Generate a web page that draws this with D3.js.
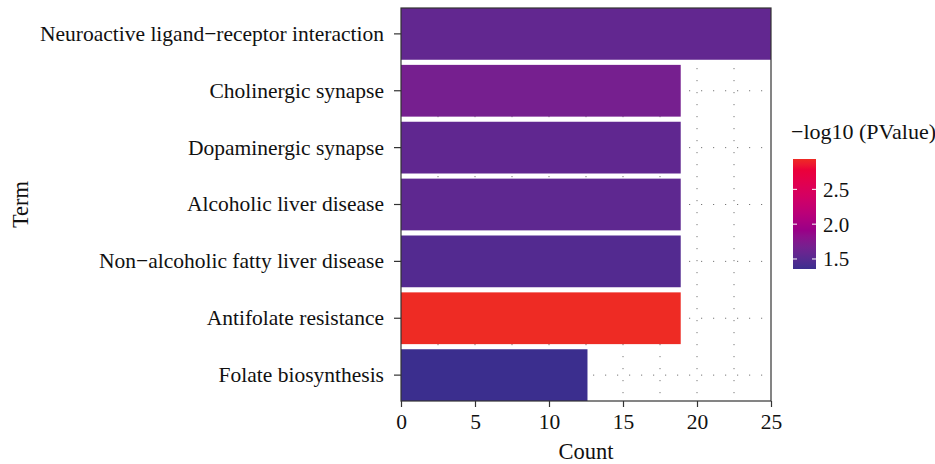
<!DOCTYPE html>
<html>
<head>
<meta charset="utf-8">
<script src="https://cdn.jsdelivr.net/npm/d3@7"></script>
<style>
  html, body { margin: 0; padding: 0; background: #fff; overflow: hidden; }
  svg { display: block; }
  svg text { font-family: "Liberation Serif", "DejaVu Serif", serif; fill: #111; }
</style>
</head>
<body>
<div id="plot"></div>
<script>

// data
  var terms = ["Neuroactive ligand\u2212receptor interaction", "Cholinergic synapse",
      "Dopaminergic synapse", "Alcoholic liver disease",
      "Non\u2212alcoholic fatty liver disease", "Antifolate resistance",
      "Folate biosynthesis"];
  var counts = [25, 18.9, 18.9, 18.9, 18.9, 18.9, 12.6];
  var logP = [1.56, 1.68, 1.55, 1.54, 1.48, 2.936, 1.356];
  var xTicks = [0, 5, 10, 15, 20, 25];
  var gridTicks = [2.5, 5, 7.5, 10, 12.5, 15, 17.5, 20, 22.5];
  var legendTicks = [1.5, 2.0, 2.5];
  var legendRange = [1.356, 2.936];

  var w = 935;
  var h = 464;
  var margin = {top: 8, right: 164, bottom: 63, left: 401};
  var innerWidth = w - margin.left - margin.right;
  var innerHeight = h - margin.top - margin.bottom;

  var xScale = d3.scaleLinear()
      .domain([0, 25])
      .range([0, innerWidth]);

  var yScale = d3.scaleBand()
      .domain(terms)
      .range([0, innerHeight])
      .paddingInner(0.09)
      .paddingOuter(0);

  var color = d3.scaleLinear()
      .domain(legendRange)
      .range(["#3b2e8e", "#ee2b24"])
      .interpolate(d3.interpolateHcl);

  var svg = d3.select("div#plot")
    .append("svg")
      .attr("width", w)
      .attr("height", h);

  var g = svg.append("g")
      .attr("transform", `translate(${margin.left}, ${margin.top})`);

// dotted grid

  g.selectAll(".vgrid")
      .data(gridTicks)
    .enter().append("line")
      .attr("x1", d => xScale(d))
      .attr("x2", d => xScale(d))
      .attr("y1", 0)
      .attr("y2", innerHeight)
      .attr("stroke", "#777")
      .attr("stroke-width", 1)
      .attr("stroke-dasharray", "1.2,10.8");

  g.selectAll(".hgrid")
      .data(terms)
    .enter().append("line")
      .attr("x1", 0)
      .attr("x2", innerWidth)
      .attr("y1", d => yScale(d) + yScale.bandwidth() / 2)
      .attr("y2", d => yScale(d) + yScale.bandwidth() / 2)
      .attr("stroke", "#777")
      .attr("stroke-width", 1)
      .attr("stroke-dasharray", "1.2,10.8");

// bars

  g.selectAll(".bar")
      .data(terms)
    .enter().append("rect")
      .attr("x", 0)
      .attr("y", d => yScale(d))
      .attr("width", (d, i) => xScale(counts[i]))
      .attr("height", yScale.bandwidth())
      .attr("fill", (d, i) => color(logP[i]));

// panel border

  g.append("rect")
      .attr("x", 0)
      .attr("y", 0)
      .attr("width", innerWidth)
      .attr("height", innerHeight)
      .attr("fill", "none")
      .attr("stroke", "#333")
      .attr("stroke-width", 1.2);

// axes

  var xAxis = d3.axisBottom(xScale)
      .tickValues(xTicks)
      .tickSize(6)
      .tickPadding(5);

  var yAxis = d3.axisLeft(yScale)
      .tickSize(7)
      .tickPadding(10);

  var gx = g.append("g")
      .attr("transform", `translate(0, ${innerHeight})`)
      .call(xAxis);

  var gy = g.append("g")
      .call(yAxis);

  [gx, gy].forEach(a => {
    a.select(".domain").remove();
    a.selectAll(".tick line").attr("stroke", "#333").attr("stroke-width", 1.2);
    a.selectAll(".tick text")
        .attr("font-family", "Liberation Serif, serif")
        .attr("font-size", "21.5px")
        .attr("fill", "#111");
  });
  gx.selectAll(".tick text").attr("dy", "0.8em");

  svg.append("text")
      .attr("x", margin.left + innerWidth / 2)
      .attr("y", 459)
      .attr("text-anchor", "middle")
      .attr("font-size", "22.5px")
      .text("Count");

  svg.append("text")
      .attr("transform", `translate(28, ${margin.top + innerHeight / 2}) rotate(-90)`)
      .attr("text-anchor", "middle")
      .attr("font-size", "22.5px")
      .text("Term");

// legend

  var legX = 793, legY = 159, legW = 23, legH = 110;
  var legScale = d3.scaleLinear()
      .domain(legendRange)
      .range([legY + legH, legY]);

  var defs = svg.append("defs");
  var grad = defs.append("linearGradient")
      .attr("id", "grad")
      .attr("x1", 0).attr("y1", 1)
      .attr("x2", 0).attr("y2", 0);
  grad.selectAll("stop")
      .data(d3.range(0, 1.0001, 0.05))
    .enter().append("stop")
      .attr("offset", d => d)
      .attr("stop-color", d => color(legendRange[0] + d * (legendRange[1] - legendRange[0])));

  svg.append("rect")
      .attr("x", legX)
      .attr("y", legY)
      .attr("width", legW)
      .attr("height", legH)
      .attr("fill", "url(#grad)");

  var legTicks = svg.append("g");
  legendTicks.forEach(t => {
    legTicks.append("line")
        .attr("x1", legX).attr("x2", legX + 4)
        .attr("y1", legScale(t)).attr("y2", legScale(t))
        .attr("stroke", "#fff").attr("stroke-width", 1);
    legTicks.append("line")
        .attr("x1", legX + legW - 4).attr("x2", legX + legW)
        .attr("y1", legScale(t)).attr("y2", legScale(t))
        .attr("stroke", "#fff").attr("stroke-width", 1);
    legTicks.append("text")
        .attr("x", legX + legW + 7)
        .attr("y", legScale(t))
        .attr("dy", "0.35em")
        .attr("font-size", "21px")
        .text(d3.format(".1f")(t));
  });

  svg.append("text")
      .attr("x", 791)
      .attr("y", 139)
      .attr("font-size", "22px")
      .text("\u2212log10 (PValue)");

</script>
</body>
</html>
